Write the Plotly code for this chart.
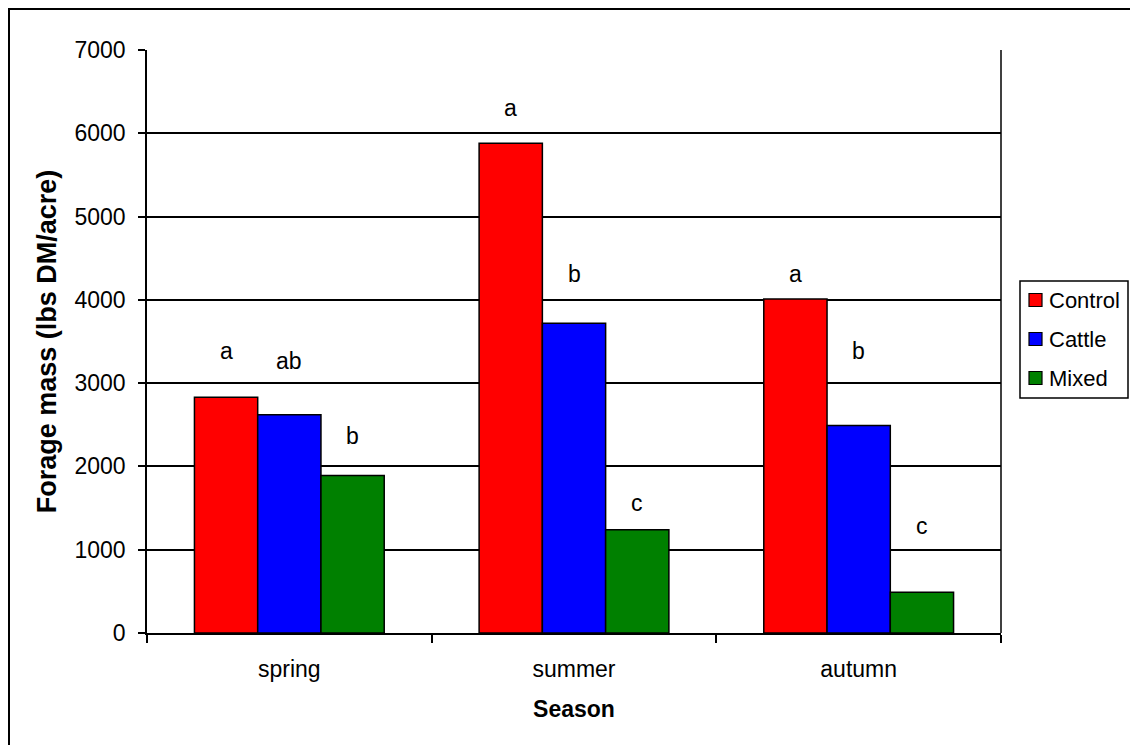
import plotly.graph_objects as go

seasons = ["spring", "summer", "autumn"]
series_names = ["Control", "Cattle", "Mixed"]
control = [2830, 5880, 4010]
cattle = [2620, 3720, 2490]
mixed = [1890, 1240, 490]
colors = ["#FF0000", "#0000FF", "#008000"]

# significance letters and their label heights (data units)
letters_control = ["a", "a", "a"]
letters_cattle = ["ab", "b", "b"]
letters_mixed = ["b", "c", "c"]
label_y_control = [3390, 6300, 4310]
label_y_cattle = [3260, 4310, 3390]
label_y_mixed = [2370, 1555, 1290]

FONT = "Arial, Liberation Sans, sans-serif"
FS = 23

fig = go.Figure()
for i, (name, vals) in enumerate(zip(series_names, [control, cattle, mixed])):
    fig.add_trace(go.Bar(
        x=seasons, y=vals, name=name, showlegend=False,
        marker=dict(color=colors[i], line=dict(color="black", width=1.5)),
    ))

bar_w = (1 - 1/3) / 3
annotations = []
for j, (letters, ys) in enumerate([(letters_control, label_y_control),
                                    (letters_cattle, label_y_cattle),
                                    (letters_mixed, label_y_mixed)]):
    for k in range(len(seasons)):
        annotations.append(dict(
            x=k + (j - 1) * bar_w, y=ys[k], xref="x", yref="y",
            text=letters[k], showarrow=False,
            font=dict(family=FONT, size=FS, color="black"),
            xanchor="center", yanchor="middle",
        ))

W, H = 1130, 745
L, T = 147, 50
R = W - 1001
B = H - 633
pw, ph = W - L - R, H - T - B

def px_x(p):
    return (p - L) / pw

def px_y(p):
    return (H - B - p) / ph

shapes = [
    dict(type="rect", xref="paper", yref="paper",
         x0=px_x(9), x1=px_x(1140), y0=px_y(755), y1=px_y(9),
         line=dict(color="black", width=2), layer="above"),
    dict(type="line", xref="paper", yref="paper", x0=1, x1=1, y0=0, y1=1,
         line=dict(color="black", width=1.5)),
    # legend box
    dict(type="rect", xref="paper", yref="paper",
         x0=px_x(1020), x1=px_x(1128), y0=px_y(398), y1=px_y(281),
         line=dict(color="black", width=1.5), fillcolor="white", layer="above"),
]
legend_rows = [300, 339, 378]
for i, name in enumerate(series_names):
    yc = legend_rows[i]
    shapes.append(dict(type="rect", xref="paper", yref="paper",
                       x0=px_x(1029), x1=px_x(1042), y0=px_y(yc + 6.5), y1=px_y(yc - 6.5),
                       line=dict(color="black", width=1.2), fillcolor=colors[i], layer="above"))
    annotations.append(dict(x=px_x(1047), y=px_y(yc), xref="paper", yref="paper",
                            text=name, showarrow=False, xanchor="left", yanchor="middle",
                            font=dict(family=FONT, size=22, color="black")))

fig.update_layout(
    width=W, height=H,
    margin=dict(l=L, r=R, t=T, b=B, pad=0, autoexpand=False),
    paper_bgcolor="white", plot_bgcolor="white",
    barmode="group", bargap=1/3, bargroupgap=0,
    font=dict(family=FONT, size=FS, color="black"),
    showlegend=False,
    annotations=annotations,
    shapes=shapes,
    xaxis=dict(
        title=dict(text="<b>Season</b>", font=dict(family=FONT, size=FS), standoff=20),
        showline=True, linecolor="black", linewidth=1.5,
        ticks="outside", ticklen=8, tickcolor="black", tickwidth=1.5,
        tickson="boundaries", showgrid=False,
        tickfont=dict(family=FONT, size=FS), ticklabelstandoff=15,
    ),
    yaxis=dict(
        title=dict(text="<b>Forage mass (lbs DM/acre)</b>", font=dict(family=FONT, size=27), standoff=10),
        range=[0, 7000], dtick=1000,
        showline=True, linecolor="black", linewidth=1.5,
        ticks="outside", ticklen=7, tickcolor="black", tickwidth=1.5,
        showgrid=True, gridcolor="black", gridwidth=1.5,
        zeroline=False, tickfont=dict(family=FONT, size=FS), ticklabelstandoff=8,
    ),
)

fig.write_html("out.html", config={"displayModeBar": False},
               post_script="document.body.style.margin='0';document.body.style.overflow='hidden';")
